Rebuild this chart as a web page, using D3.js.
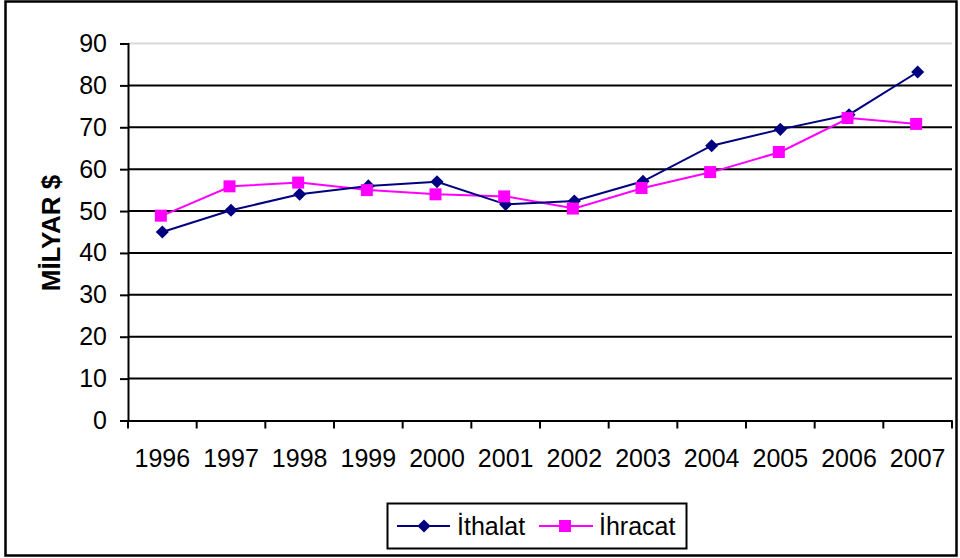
<!DOCTYPE html>
<html>
<head>
<meta charset="utf-8">
<script src="https://cdn.jsdelivr.net/npm/d3@7"></script>
<style>
  body { margin: 0; background: #fff; }
  text { font-family: "Liberation Sans", Arial, sans-serif; fill: #000; }
</style>
</head>
<body>
<script>
'use strict';

var years    = ['1996', '1997', '1998', '1999', '2000', '2001', '2002', '2003', '2004', '2005', '2006', '2007'];
var ithalat  = [45.0, 50.2, 54.0, 56.0, 57.0, 51.6, 52.4, 57.1, 65.6, 69.5, 73.0, 83.2];
var ihracat  = [48.9, 55.9, 56.8, 55.0, 54.0, 53.5, 50.6, 55.5, 59.3, 64.1, 72.2, 70.8];
var yTicks   = [0, 10, 20, 30, 40, 50, 60, 70, 80, 90];
var seriesNames = ['İthalat', 'İhracat'];

var width  = 960;
var height = 558;
var margin = { left: 128, right: 8, top: 43.5, bottom: 137.5 };
var fontSize = '25px';

var svg = d3.select('body').append('svg')
    .attr('width', width)
    .attr('height', height);

// outer frame
svg.append('rect')
  .attr('x', 5.5).attr('y', 1.5)
  .attr('width', 951).attr('height', 554)
  .attr('fill', 'none')
  .attr('stroke', '#000')
  .attr('stroke-width', 2.5);

var x = d3.scaleBand()
  .domain(years)
  .range([margin.left, width - margin.right]);

var y = d3.scaleLinear()
  .domain([0, 90])
  .range([height - margin.bottom, margin.top]);

// gridlines
svg.append('g').selectAll('line')
  .data(yTicks.filter(function(d) { return d > 0; }))
  .enter().append('line')
  .attr('x1', margin.left).attr('x2', width - margin.right)
  .attr('y1', function(d) { return y(d); })
  .attr('y2', function(d) { return y(d); })
  .attr('stroke', function(d) { return d === 90 ? '#d9d9d9' : '#000'; })
  .attr('stroke-width', 2);

// y axis
var yAxis = svg.append('g')
  .attr('transform', 'translate(' + margin.left + ',0)')
  .call(d3.axisLeft(y).tickValues(yTicks).tickSize(8).tickPadding(13));
yAxis.selectAll('text').style('font-size', fontSize);

// x axis
var xAxis = svg.append('g')
  .attr('transform', 'translate(0,' + y(0) + ')')
  .call(d3.axisBottom(x).tickSize(0).tickPadding(29));
xAxis.selectAll('text').style('font-size', fontSize);
xAxis.selectAll('.tick line').remove();
xAxis.selectAll('.tickmark')
  .data(years.concat(['end']))
  .enter().append('line')
  .attr('x1', function(d, i) { return i < years.length ? x(d) : x.range()[1]; })
  .attr('x2', function(d, i) { return i < years.length ? x(d) : x.range()[1]; })
  .attr('y1', 0).attr('y2', 8)
  .attr('stroke', '#000').attr('stroke-width', 2);

svg.selectAll('.domain').attr('stroke', '#000').attr('stroke-width', 2);
yAxis.selectAll('.tick line').attr('stroke-width', 2);

// axis title
svg.append('text')
  .attr('transform', 'translate(60,' + (y(45) + 1) + ') rotate(-90)')
  .attr('text-anchor', 'middle')
  .style('font-size', '26px')
  .style('font-weight', 'bold')
  .text('MİLYAR $');

var cx = function(d, i) { return x(years[i]) + x.bandwidth() / 2; };

var line = d3.line()
  .x(cx)
  .y(function(d) { return y(d); });

// İhracat
svg.append('path')
  .datum(ihracat)
  .attr('d', line)
  .attr('fill', 'none')
  .attr('stroke', '#ff00ff')
  .attr('stroke-width', 2);

// İthalat
svg.append('path')
  .datum(ithalat)
  .attr('d', line)
  .attr('fill', 'none')
  .attr('stroke', '#000080')
  .attr('stroke-width', 2);

var diamond = d3.symbol().type(d3.symbolSquare).size(86);
var sq = 12;

svg.append('g').selectAll('path')
  .data(ithalat)
  .enter().append('path')
  .attr('d', diamond)
  .attr('transform', function(d, i) { return 'translate(' + cx(d, i) + ',' + y(d) + ') rotate(45)'; })
  .attr('fill', '#000080');

svg.append('g').selectAll('rect')
  .data(ihracat)
  .enter().append('rect')
  .attr('x', function(d, i) { return cx(d, i) - 1.5 - sq / 2; })
  .attr('y', function(d) { return y(d) - sq / 2; })
  .attr('width', sq).attr('height', sq)
  .attr('fill', '#ff00ff');

// legend
var legend = svg.append('g');
legend.append('rect')
  .attr('x', 387.5).attr('y', 503.5)
  .attr('width', 299).attr('height', 45)
  .attr('fill', '#fff')
  .attr('stroke', '#000')
  .attr('stroke-width', 2);

var ly = 526;
legend.append('line')
  .attr('x1', 397).attr('x2', 450).attr('y1', ly).attr('y2', ly)
  .attr('stroke', '#000080').attr('stroke-width', 2);
legend.append('path')
  .attr('d', diamond)
  .attr('transform', 'translate(424,' + ly + ') rotate(45)')
  .attr('fill', '#000080');
legend.append('text')
  .attr('x', 457).attr('y', ly + 9)
  .style('font-size', fontSize)
  .text(seriesNames[0]);

legend.append('line')
  .attr('x1', 539).attr('x2', 593).attr('y1', ly).attr('y2', ly)
  .attr('stroke', '#ff00ff').attr('stroke-width', 2);
legend.append('rect')
  .attr('x', 559).attr('y', ly - sq / 2)
  .attr('width', sq).attr('height', sq)
  .attr('fill', '#ff00ff');
legend.append('text')
  .attr('x', 599).attr('y', ly + 9)
  .style('font-size', fontSize)
  .text(seriesNames[1]);
</script>
</body>
</html>
